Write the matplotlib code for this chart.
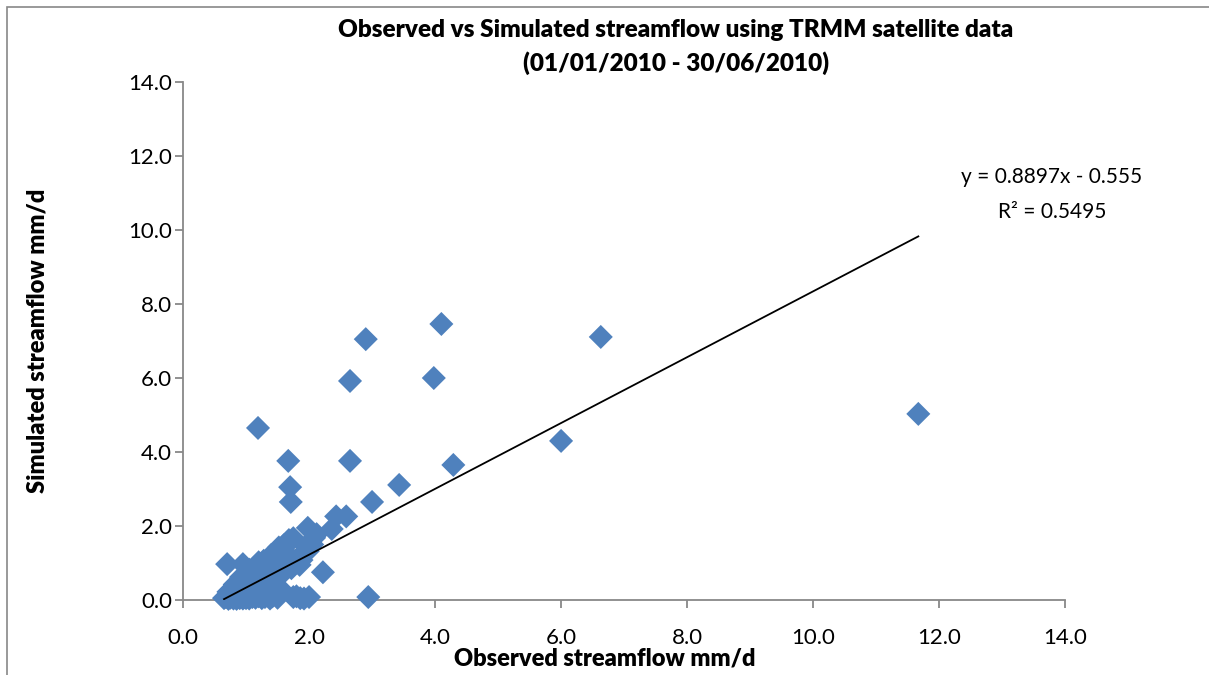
import matplotlib
matplotlib.use("Agg")
import matplotlib.pyplot as plt
from matplotlib.patches import Rectangle

plt.rcParams['font.family'] = ['Lato', 'DejaVu Sans']

# Observed (x) and simulated (y) streamflow, mm/d
observed = [
    # outliers / sparse points
    11.67, 6.63, 4.10, 2.90, 3.98, 2.65, 6.00, 4.29, 2.65, 3.43, 3.00, 1.19, 1.67, 1.70,
    1.71, 2.59, 2.43, 2.36, 1.98, 1.75, 0.70, 0.95, 2.22, 2.94, 1.86, 2.00, 1.75, 2.12,
    # bottom row
    0.65, 0.68, 0.72, 0.75, 0.78, 0.80, 0.83, 0.85, 0.88, 0.90, 0.93, 0.95, 0.98, 1.00,
    1.03, 1.05, 1.10, 1.15, 1.20, 1.25, 1.30, 1.38, 1.42, 1.50, 1.80, 1.92,
    # y ~ 0.25
    0.72, 0.78, 0.82, 0.87, 0.92, 0.97, 1.02, 1.07, 1.12, 1.18, 1.24, 1.32, 1.42, 1.55,
    # y ~ 0.45
    0.82, 0.88, 0.93, 0.98, 1.03, 1.08, 1.13, 1.18, 1.24, 1.30, 1.36,
    # y ~ 0.65
    0.92, 0.98, 1.04, 1.10, 1.15, 1.20, 1.26, 1.32, 1.38, 1.45, 1.52,
    # y ~ 0.85
    1.05, 1.12, 1.18, 1.25, 1.32, 1.38, 1.44, 1.50, 1.62, 1.72, 1.85,
    # y ~ 1.05
    1.20, 1.28, 1.35, 1.42, 1.50, 1.58, 1.78, 1.88,
    # y ~ 1.25
    1.40, 1.48, 1.55, 1.62, 1.90, 1.98,
    # y ~ 1.45
    1.52, 1.60, 1.95, 2.05,
    # y ~ 1.65
    1.68, 2.08,
]
simulated = [
    5.03, 7.11, 7.46, 7.05, 6.00, 5.92, 4.30, 3.65, 3.76, 3.11, 2.65, 4.65, 3.76, 3.05,
    2.65, 2.26, 2.26, 1.92, 1.95, 1.67, 0.97, 0.97, 0.75, 0.08, 0.05, 0.08, 0.08, 1.78,
    0.05, 0.08, 0.03, 0.06, 0.10, 0.04, 0.08, 0.03, 0.09, 0.05, 0.10, 0.04, 0.08, 0.05,
    0.10, 0.04, 0.08, 0.06, 0.10, 0.05, 0.08, 0.04, 0.10, 0.06, 0.10, 0.04,
    0.22, 0.30, 0.25, 0.32, 0.26, 0.30, 0.24, 0.28, 0.32, 0.25, 0.30, 0.28, 0.26, 0.30,
    0.42, 0.48, 0.45, 0.50, 0.44, 0.48, 0.52, 0.46, 0.50, 0.44, 0.48,
    0.62, 0.66, 0.64, 0.68, 0.62, 0.70, 0.66, 0.72, 0.64, 0.68, 0.62,
    0.82, 0.86, 0.84, 0.88, 0.84, 0.90, 0.86, 0.82, 0.88, 0.86, 0.95,
    1.02, 1.06, 1.08, 1.04, 1.10, 1.06, 1.02, 1.08,
    1.22, 1.28, 1.25, 1.30, 1.26, 1.32,
    1.42, 1.48, 1.45, 1.50,
    1.62, 1.68,
]

slope = 0.8897
intercept = -0.555
r2 = 0.5495

x_ticks = [0, 2, 4, 6, 8, 10, 12, 14]
y_ticks = [0, 2, 4, 6, 8, 10, 12, 14]

fig = plt.figure(figsize=(12.09, 6.75), dpi=100)
ax = fig.add_axes([0.1514, 0.1111, 0.7296, 0.7674])

ax.scatter(observed, simulated, marker='D', s=150, color='#4F81BD',
           edgecolors='none', zorder=3, clip_on=False)

xl = [min(observed), max(observed)]
ax.plot(xl, [slope * v + intercept for v in xl], color='black', lw=1.3, zorder=4)

ax.set_xlim(0, 14)
ax.set_ylim(0, 14)
ax.set_xticks(x_ticks)
ax.set_yticks(y_ticks)
ax.set_xticklabels([f"{v:.1f}" for v in x_ticks], fontsize=16)
ax.set_yticklabels([f"{v:.1f}" for v in y_ticks], fontsize=16)
for s in ['top', 'right']:
    ax.spines[s].set_visible(False)
for s in ['left', 'bottom']:
    ax.spines[s].set_color('#888888')
    ax.spines[s].set_linewidth(1.3)
ax.tick_params(axis='both', direction='out', length=6, width=1.3, color='#888888')
ax.tick_params(axis='x', pad=14)
ax.tick_params(axis='y', pad=2)

ax.set_xlabel("Observed streamflow mm/d", fontsize=17, fontweight='heavy')
ax.set_ylabel("Simulated streamflow mm/d", fontsize=17, fontweight='heavy')
ax.xaxis.set_label_coords(0.478, -0.091)
ax.yaxis.set_label_coords(-0.152, 0.5)

fig.text(0.559, 0.955, "Observed vs Simulated streamflow using TRMM satellite data",
         ha='center', va='center', fontsize=17.5, fontweight='heavy')
fig.text(0.559, 0.907, "(01/01/2010 - 30/06/2010)",
         ha='center', va='center', fontsize=17.5, fontweight='heavy')

fig.text(0.870, 0.738, f"y = {slope}x - {abs(intercept)}", ha='center', va='center', fontsize=15)
fig.text(0.870, 0.686, f"R² = {r2}", ha='center', va='center', fontsize=15)

fig.patches.append(Rectangle((0.006, -0.01), 1.0, 1.0, transform=fig.transFigure,
                             fill=False, edgecolor='#888888', lw=1.2))

fig.savefig("out.png", dpi=100)
